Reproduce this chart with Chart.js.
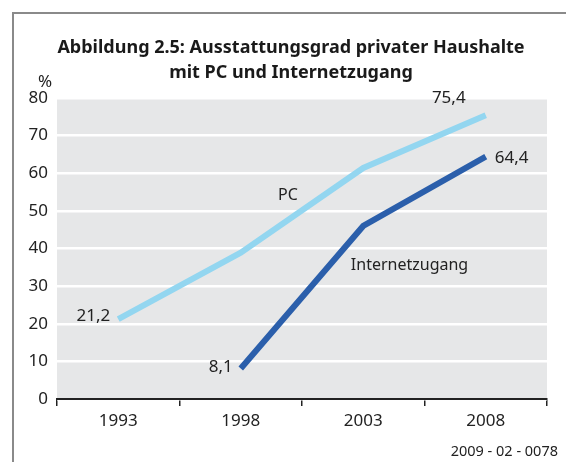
<!DOCTYPE html>
<html><head><meta charset="utf-8">
<script src="https://cdn.jsdelivr.net/npm/chart.js@4"></script>
<style>html,body{margin:0;padding:0;background:#fff}canvas{display:block}</style>
</head><body>
<div style="width:566px;height:462px"><canvas id="c" width="566" height="462"></canvas></div>
<script>
const years = ['1993', '1998', '2003', '2008'];
const pcValues = [21.2, 38.9, 61.4, 75.4];
const internetValues = [null, 8.1, 46.0, 64.4];
const yTicks = [0, 10, 20, 30, 40, 50, 60, 70, 80];
const titleLines = ['Abbildung 2.5: Ausstattungsgrad privater Haushalte', 'mit PC und Internetzugang'];
const seriesNames = ['PC', 'Internetzugang'];
const unitLabel = '%';
const sourceNote = '2009 - 02 - 0078';

const FONT = '"Noto Sans", sans-serif';
const fmt = v => v.toFixed(1).replace('.', ',');

const decor = {
  id: 'decor',
  beforeDraw(chart) {
    const {ctx, chartArea: a} = chart;
    ctx.save();
    ctx.fillStyle = '#fff';
    ctx.fillRect(0, 0, chart.width, chart.height);
    ctx.strokeStyle = '#8a8a8a';
    ctx.lineWidth = 2;
    ctx.beginPath();
    ctx.moveTo(13, chart.height + 2);
    ctx.lineTo(13, 13);
    ctx.lineTo(chart.width + 2, 13);
    ctx.stroke();
    ctx.fillStyle = '#e6e7e8';
    ctx.fillRect(a.left, a.top, a.right - a.left, a.bottom - a.top);
    ctx.restore();
  },
  afterDraw(chart) {
    const {ctx, chartArea: a, scales} = chart;
    const x = scales.x, y = scales.y;
    ctx.save();
    ctx.fillStyle = '#1a1a1a';
    ctx.font = 'bold 18px ' + FONT;
    ctx.textAlign = 'center';
    ctx.textBaseline = 'alphabetic';
    ctx.fillText(titleLines[0], 291, 53);
    ctx.fillText(titleLines[1], 291, 78);
    ctx.font = '17px ' + FONT;
    ctx.fillStyle = '#222';
    ctx.textAlign = 'center';
    ctx.fillText(unitLabel, 45, 87);
    ctx.font = '14.5px ' + FONT;
    ctx.textAlign = 'right';
    ctx.fillText(sourceNote, 558, 456);
    ctx.font = '17px ' + FONT;
    ctx.textBaseline = 'middle';
    const px = i => x.getPixelForValue(i);
    ctx.textAlign = 'right';
    ctx.fillText(fmt(pcValues[0]), px(0) - 8, y.getPixelForValue(pcValues[0]) - 3);
    ctx.fillText(fmt(internetValues[1]), px(1) - 8, y.getPixelForValue(internetValues[1]) - 1);
    ctx.textAlign = 'center';
    ctx.fillText(fmt(pcValues[3]), px(3) - 37, y.getPixelForValue(pcValues[3]) - 17);
    ctx.textAlign = 'left';
    ctx.fillText(fmt(internetValues[3]), px(3) + 9, y.getPixelForValue(internetValues[3]) + 1);
    ctx.font = '16px ' + FONT;
    ctx.textAlign = 'center';
    ctx.fillText(seriesNames[0], (px(1) + px(2)) / 2 - 14, y.getPixelForValue(54));
    ctx.fillText(seriesNames[1], (px(2) + px(3)) / 2 - 15, y.getPixelForValue(35.5));
    ctx.restore();
  }
};

new Chart(document.getElementById('c'), {
  type: 'line',
  data: {
    labels: years,
    datasets: [
      { label: seriesNames[0], data: pcValues, borderColor: '#93d6f0', borderWidth: 6,
        pointRadius: 0, borderCapStyle: 'butt', borderJoinStyle: 'miter', tension: 0 },
      { label: seriesNames[1], data: internetValues, borderColor: '#2b5fab', borderWidth: 6,
        pointRadius: 0, borderCapStyle: 'butt', borderJoinStyle: 'miter', tension: 0 }
    ]
  },
  options: {
    responsive: false,
    animation: false,
    devicePixelRatio: 1,
    layout: { padding: { top: 98, right: 19, bottom: 0, left: 0 } },
    plugins: { legend: { display: false }, title: { display: false }, tooltip: { enabled: false } },
    scales: {
      x: {
        offset: true,
        afterFit(s) { s.height = 63; },
        grid: { display: true, drawOnChartArea: false, drawTicks: true, tickLength: 7,
                color: '#222', lineWidth: 1.5, offset: true },
        border: { display: true, color: '#222', width: 2 },
        ticks: { color: '#222', font: { family: FONT, size: 17 }, padding: 5 }
      },
      y: {
        min: 0, max: 80,
        afterFit(s) { s.width = 57; },
        afterBuildTicks(s) { s.ticks = yTicks.map(v => ({ value: v })); },
        grid: { color: '#ffffff', lineWidth: 2.5, drawTicks: false },
        border: { display: false },
        ticks: { color: '#222', font: { family: FONT, size: 17 }, padding: 9 }
      }
    }
  },
  plugins: [decor]
});
</script>
</body></html>
